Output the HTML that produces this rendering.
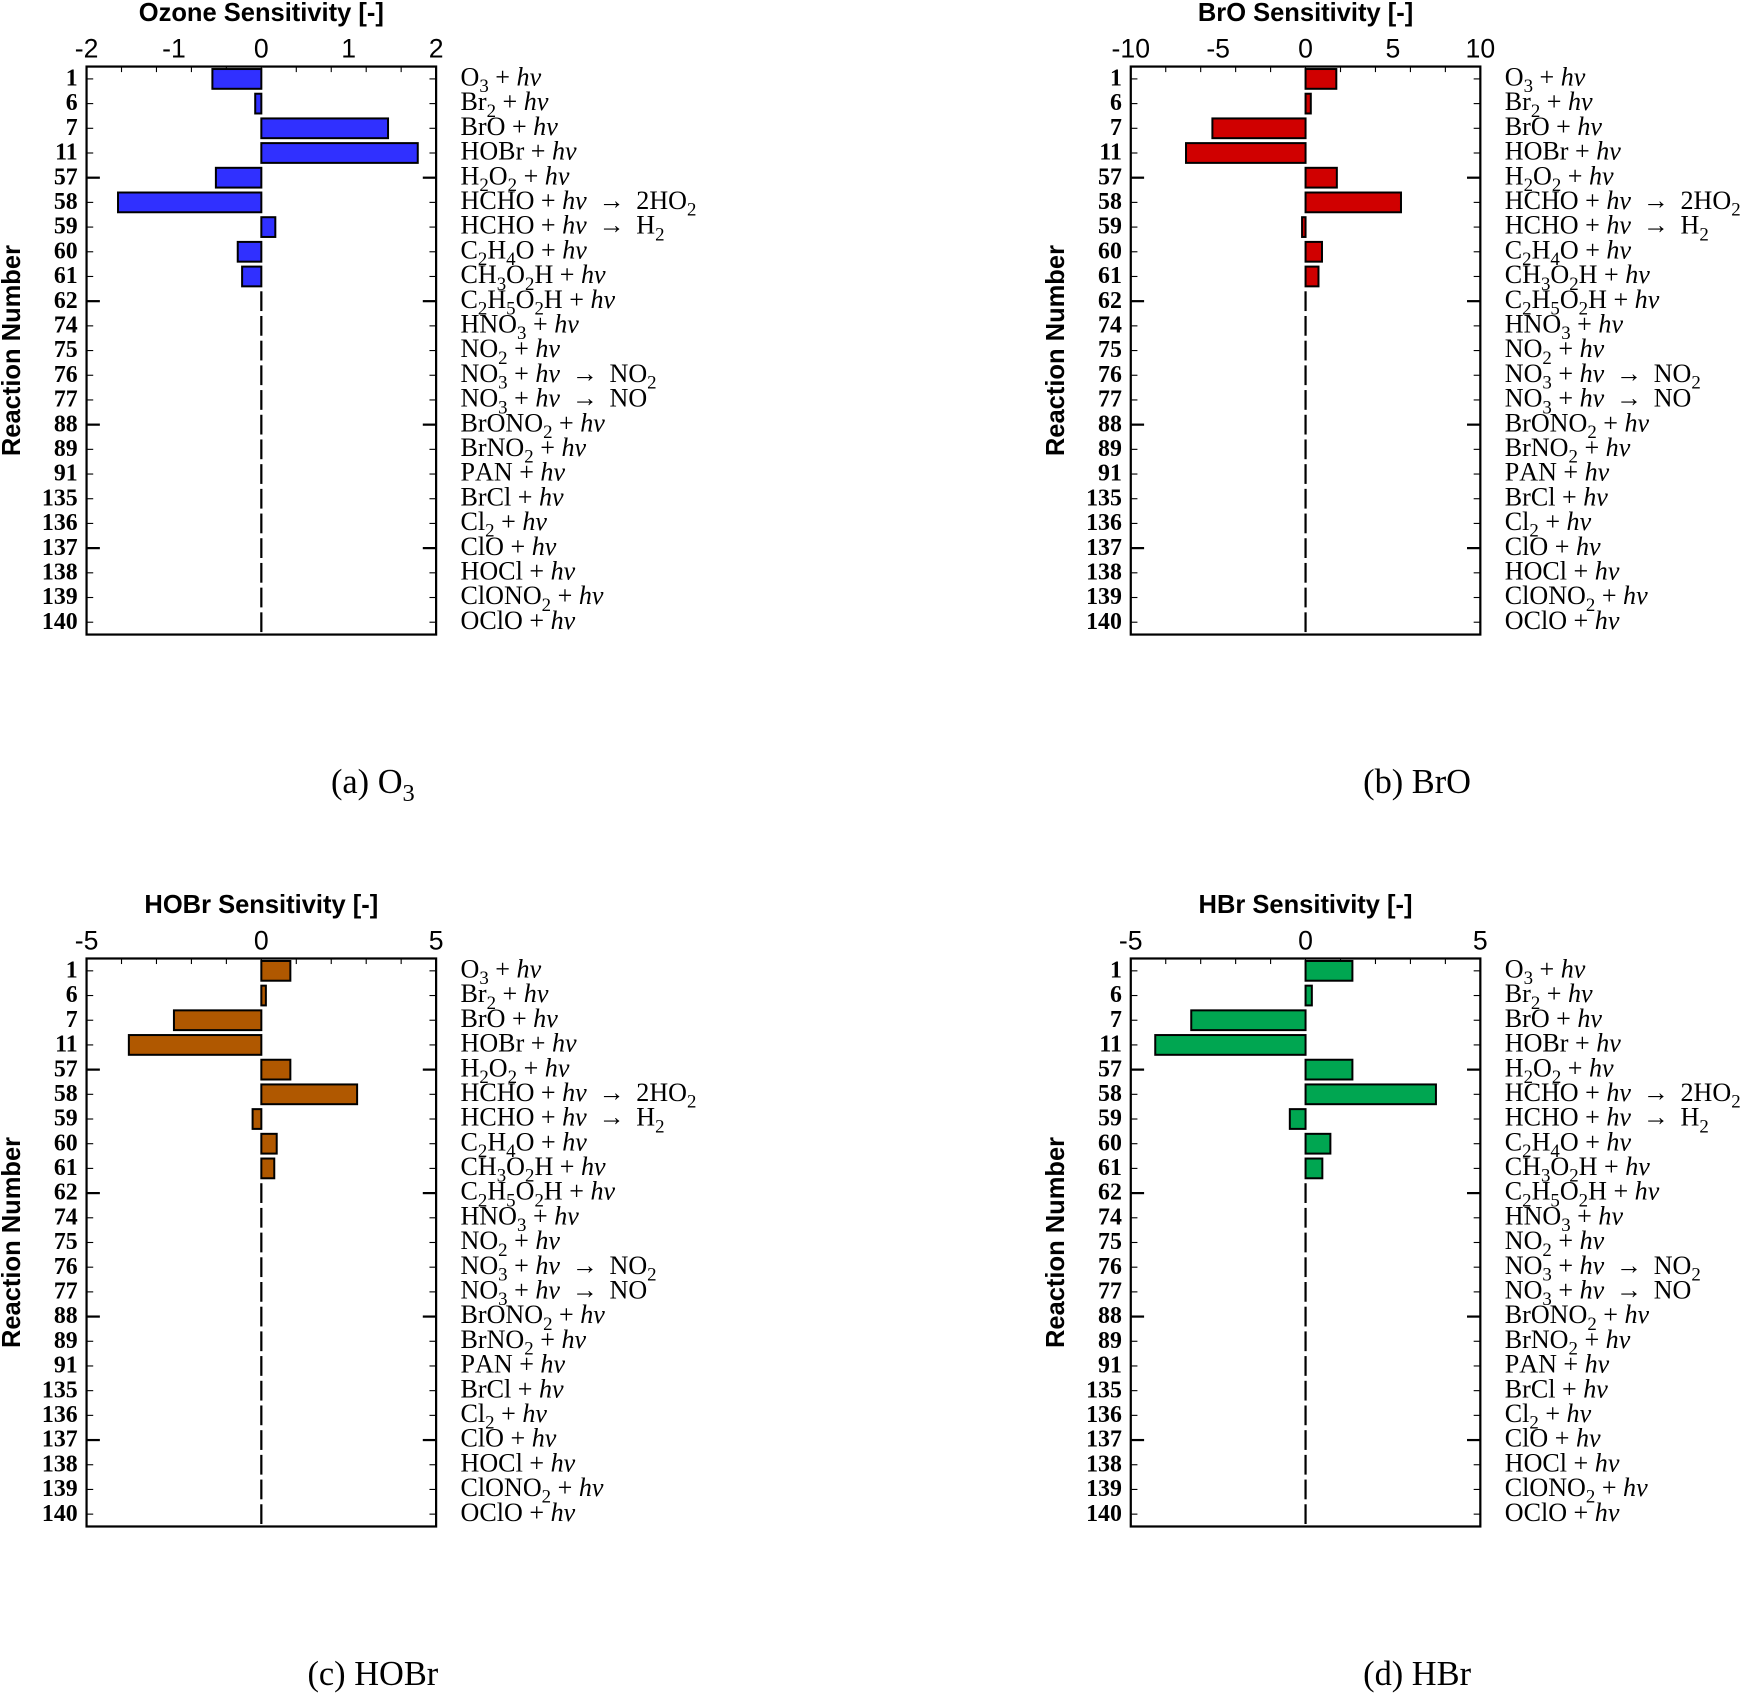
<!DOCTYPE html>
<html><head><meta charset="utf-8"><style>
html,body{margin:0;padding:0;background:#fff;width:1740px;height:1694px;overflow:hidden}
svg{display:block}
.ser{font-family:"Liberation Serif",serif}
.san{font-family:"Liberation Sans",sans-serif}
</style></head><body>
<svg id="fig" width="1740" height="1694" viewBox="0 0 1568 1527" preserveAspectRatio="none" xmlns="http://www.w3.org/2000/svg"></svg>
<script>
const reactionNumbers = ["1","6","7","11","57","58","59","60","61","62","74","75","76","77","88","89","91","135","136","137","138","139","140"];
const reactionLabels = ["O_3 + hν","Br_2 + hν","BrO + hν","HOBr + hν","H_2O_2 + hν","HCHO + hν → 2HO_2","HCHO + hν → H_2","C_2H_4O + hν","CH_3O_2H + hν","C_2H_5O_2H + hν","HNO_3 + hν","NO_2 + hν","NO_3 + hν → NO_2","NO_3 + hν → NO","BrONO_2 + hν","BrNO_2 + hν","PAN + hν","BrCl + hν","Cl_2 + hν","ClO + hν","HOCl + hν","ClONO_2 + hν","OClO + hν"];
const ozoneValues = [-0.56,-0.07,1.45,1.79,-0.52,-1.64,0.16,-0.27,-0.22,0.01,0,0,0,0,0,0,0,-0.01,0,0,0,0,0];
const broValues = [1.76,0.3,-5.33,-6.84,1.79,5.46,-0.2,0.94,0.74,-0.05,0,0,0,0,0,0,0,0.07,0,0,0,0,0];
const hobrValues = [0.83,0.13,-2.5,-3.79,0.83,2.74,-0.25,0.44,0.37,0.01,0,0,0,0,0,0,0,0.05,0,0,0,0,0];
const hbrValues = [1.34,0.18,-3.27,-4.3,1.34,3.73,-0.45,0.71,0.48,-0.03,0,0,0,0,0,0,0,0.05,0,0,0,0,0];
const ozoneTicks = ["-2","-1","0","1","2"];
const broTicks = ["-10","-5","0","5","10"];
const hobrTicks = ["-5","0","5"];
const hbrTicks = ["-5","0","5"];

const NS="http://www.w3.org/2000/svg";
const svg=document.getElementById('fig');
function mk(tag,attrs,parent){const e=document.createElementNS(NS,tag);for(const k in attrs)e.setAttribute(k,attrs[k]);(parent||svg).appendChild(e);return e;}

function chemText(g,str,x,y){
  const t=mk('text',{x:x,y:y,'font-size':23.5,class:'ser',fill:'#000'},g);
  let i=0,pending=false;
  const add=(txt,attrs)=>{const s=mk('tspan',attrs||{},t);if(pending){s.setAttribute('dy',-6);pending=false;}s.textContent=txt;return s;};
  while(i<str.length){
    const c=str[i];
    if(c==='_'){const s=mk('tspan',{dy:6,'font-size':17},t);s.textContent=str[i+1];pending=true;i+=2;continue;}
    if(c==='h'&&str[i+1]==='ν'){add('hν',{'font-style':'italic'});i+=2;continue;}
    if(c==='→'){add('\u2009→\u2009');i++;continue;}
    add(c);i++;
  }
  return t;
}

function panel(ox,oy,values,ticks,min,max,color,title,caption,name){
  const g=mk('g',{});
  
  
  const L=78+ox,R=393+ox,T=60+oy,B=572+oy;
  const xs=v=>L+(v-min)/(max-min)*(R-L);
  const n=reactionNumbers.length, sp=(B-T)/n;
  const ys=i=>T+(i+0.5)*sp;
  const tt=mk('text',{x:(L+R)/2,y:T-41,'text-anchor':'middle','font-size':23,'font-weight':'bold',class:'san'},g);
  tt.textContent=title;
  
  
  const yt=mk('text',{x:0,y:0,transform:`translate(${L-60},${(T+B)/2}) rotate(-90)`,'text-anchor':'middle','font-size':23,'font-weight':'bold',class:'san'},g);
  yt.textContent='Reaction Number';
  
  
  const step=(max-min)/10;
  for(let k=0;k<=10;k++){
    const v=min+k*step, x=xs(v), major=(k%(10/(ticks.length-1))===0);
    mk('line',{x1:x,x2:x,y1:T,y2:T+(major?10:5),stroke:'#000','stroke-width':1},g);
  }
  ticks.forEach((tl,j)=>{
    const v=min+j*(max-min)/(ticks.length-1);
    const t=mk('text',{x:xs(v),y:T-8,'text-anchor':'middle','font-size':24,class:'san'},g);
    t.textContent=tl;
    
    
  });
  for(let i=0;i<n;i++){
    const y=ys(i), long=(i===4||i===9||i===14||i===19);
    const len=long?12:6, w=long?2:1;
    mk('line',{x1:L,x2:L+len,y1:y,y2:y,stroke:'#000','stroke-width':w},g);
    mk('line',{x1:R,x2:R-len,y1:y,y2:y,stroke:'#000','stroke-width':w},g);
    const nt=mk('text',{x:L-8,y:y+6,'text-anchor':'end','font-size':21.5,'font-weight':'bold',class:'ser'},g);
    nt.textContent=reactionNumbers[i];
    
    
    const lt=chemText(g,reactionLabels[i],R+22,y+6);
    
    
    const v=values[i], x0=xs(0), x1=xs(v);
    let bx=Math.min(x0,x1), bw=Math.abs(x1-x0);
    const bh=sp*0.8;
    let b;
    if(bw<2){
      b=mk('rect',{x:x0-1,y:y-bh/2,width:2,height:bh,fill:'#000'},g);
    } else {
      b=mk('rect',{x:bx,y:y-bh/2,width:bw,height:bh,fill:color,stroke:'#000','stroke-width':1.8},g);
    }
    
    
  }
  mk('rect',{x:L,y:T,width:R-L,height:B-T,fill:'none',stroke:'#000','stroke-width':2},g);
  const c=mk('text',{x:L+258,y:B+143,'text-anchor':'middle','font-size':31,class:'ser'},g);
  
  
  c.appendChild(document.createTextNode(caption[0]));
  if(caption[1]){const s=mk('tspan',{dy:7,'font-size':22},c);s.textContent=caption[1];}
}
panel(0,0,ozoneValues,ozoneTicks,-2,2,'#3030ff','Ozone Sensitivity [-]',['(a) O','3'],'panel-ozone');
panel(941,0,broValues,broTicks,-10,10,'#d00000','BrO Sensitivity [-]',['(b) BrO'],'panel-bro');
panel(0,804,hobrValues,hobrTicks,-5,5,'#b05800','HOBr Sensitivity [-]',['(c) HOBr'],'panel-hobr');
panel(941,804,hbrValues,hbrTicks,-5,5,'#00a651','HBr Sensitivity [-]',['(d) HBr'],'panel-hbr');
</script>
</body></html>
